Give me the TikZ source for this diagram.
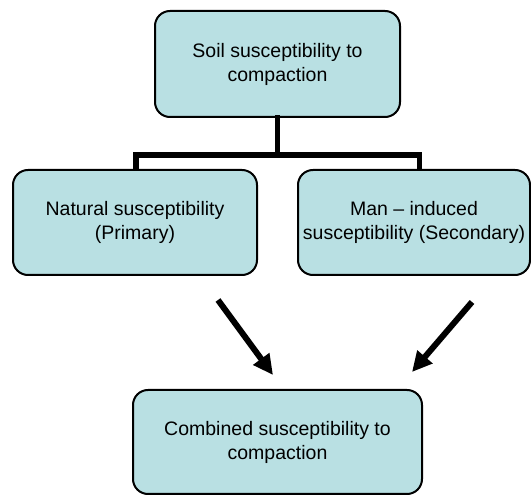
\documentclass[tikz,border=0pt]{standalone}
\usepackage{fontspec}
\setmainfont{Liberation Sans}
\usetikzlibrary{arrows.meta}
\definecolor{boxfill}{RGB}{185,224,227}
\begin{document}
\begin{tikzpicture}[x=1pt,y=-1pt,
  box/.style={draw=black,line width=2pt,fill=boxfill,rounded corners=15pt,
    align=center,inner sep=0pt,
    font=\fontsize{19.5}{24}\selectfont},
  tree/.style={line width=5.5pt,line cap=rect},
  bigarrow/.style={line width=6pt,-{Triangle[width=19pt,length=20pt]}}]
\useasboundingbox (0,0) rectangle (531,497);

\node[box,minimum width=245pt,minimum height=106pt] (top) at (277.5,64)
  {Soil susceptibility to\\compaction};
\node[box,minimum width=244pt,minimum height=105pt] (left) at (135,222.5)
  {Natural susceptibility\\(Primary)};
\node[box,minimum width=232pt,minimum height=105pt] (right) at (414,222.5)
  {Man -- induced\\susceptibility (Secondary)};
\node[box,minimum width=289pt,minimum height=104pt] (bottom) at (277.5,442)
  {Combined susceptibility to\\compaction};

% branching connector from the top box
\coordinate (hub) at (277.5,155);
\coordinate (hubL) at (136,155);
\coordinate (hubR) at (419.5,155);
\draw[tree] (top.south) -- (hub);
\draw[tree] (hubL) -- (hubR);
\draw[line width=5.5pt] (hubL) -- (hubL |- left.north);
\draw[line width=5.5pt] (hubR) -- (hubR |- right.north);

% arrows toward the combined box
\coordinate (a1s) at (218,300);
\coordinate (a1e) at (273,375);
\coordinate (a2s) at (472,302);
\coordinate (a2e) at (412,372);
\draw[bigarrow] (a1s) -- (a1e);
\draw[bigarrow] (a2s) -- (a2e);
\end{tikzpicture}
\end{document}
